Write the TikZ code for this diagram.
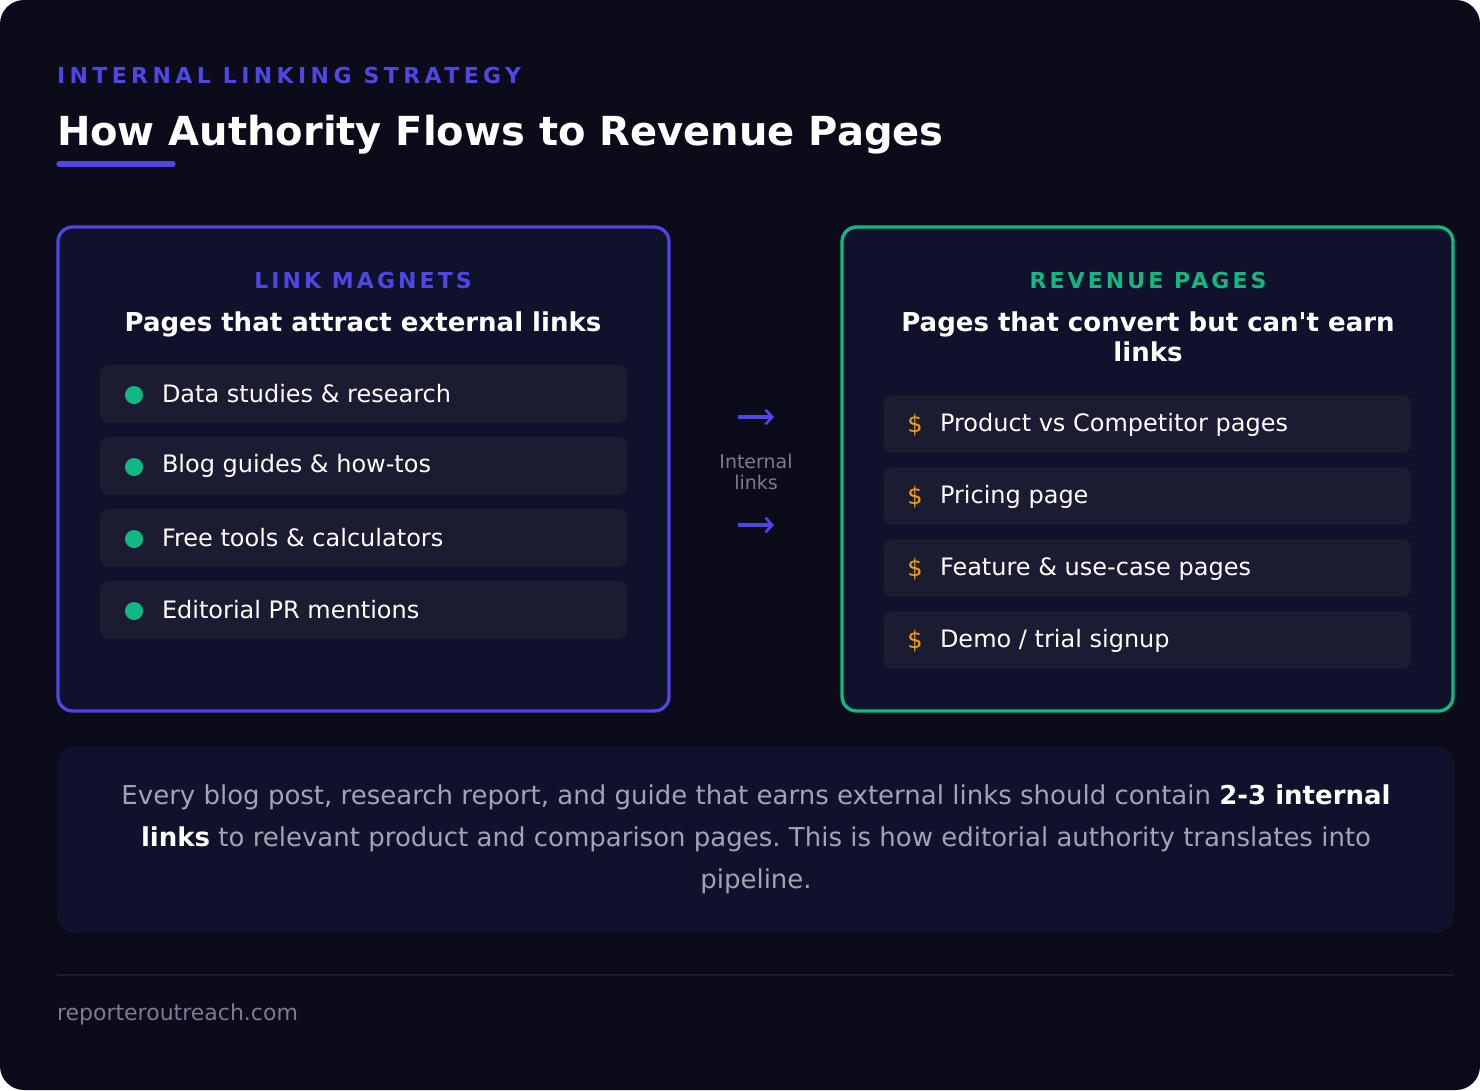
\documentclass[tikz,border=0pt]{standalone}
\usepackage{fontspec}
\setmainfont{DejaVu Sans}[Ligatures=TeXOff]
\newfontfamily\spaced[LetterSpace=20]{DejaVu Sans}
\newfontfamily\spacedb[LetterSpace=14]{DejaVu Sans}
\definecolor{bg}{HTML}{0B0B1A}
\definecolor{panel}{HTML}{10112A}
\definecolor{item}{HTML}{1B1B31}
\definecolor{indigo}{HTML}{4F46E5}
\definecolor{grn}{HTML}{10B981}
\definecolor{org}{HTML}{F59E0B}
\definecolor{gry}{HTML}{A3A3B8}
\definecolor{dgry}{HTML}{7C7C92}
\newcommand{\fsz}[1]{\fontsize{#1}{#1}\selectfont}
\frenchspacing
\tikzset{
 every node/.style={inner sep=0pt,outer sep=0pt},
 panelbox/.style={draw,line width=2.5pt,rounded corners=11pt,fill=panel},
 itembar/.style={fill=item,rounded corners=6pt},
 itemtxt/.style={anchor=west,text=white,font=\fsz{18}},
 bullet/.style={circle,fill=grn,minimum size=13.5pt},
 dollar/.style={anchor=center,text=org,font=\fsz{18}},
 arr/.style={-{Straight Barb[length=5pt,width=11pt,line width=2pt]},draw=indigo,line width=2.4pt},
}
\usetikzlibrary{arrows.meta}
\begin{document}
\begin{tikzpicture}[x=0.75pt,y=-0.75pt]
\useasboundingbox (0,0) rectangle (1480,1090);
\fill[bg,rounded corners=18pt] (0,0) rectangle (1480,1090);
\node[anchor=base west,text=indigo,font=\spaced\bfseries\fsz{16.5}] (kick) at (57,83) {INTERNAL LINKING STRATEGY};
\node[anchor=base west,text=white,font=\bfseries\fsz{30}] (title) at (57,145) {How Authority Flows to Revenue Pages};
\draw[indigo,line width=4pt,line cap=round] (59,164) -- (173,164);
% left panel
\draw[panelbox,draw=indigo] (58,227) rectangle (669,711);
\node[anchor=base,text=indigo,font=\spacedb\bfseries\fsz{16.5}] (lm) at (363,288) {LINK MAGNETS};
\node[anchor=base,text=white,font=\bfseries\fsz{19.5}] (lms) at (363,331) {Pages that attract external links};
\foreach \y/\t [count=\i] in {394/{Data studies \& research},466/{Blog guides \& how-tos},538/{Free tools \& calculators},610/{Editorial PR mentions}}{
 \fill[itembar] (100,\y-29) rectangle (627,\y+29);
 \node[bullet] (b\i) at (134,\y+1) {};
 \node[itemtxt] (l\i) at (162,\y) {\t};
}
% right panel
\draw[panelbox,draw=grn] (842,227) rectangle (1453,711);
\node[anchor=base,text=grn,font=\spacedb\bfseries\fsz{16.5}] (rp) at (1148,288) {REVENUE PAGES};
\node[anchor=base,text=white,font=\bfseries\fsz{19.5}] (rps) at (1148,331) {Pages that convert but can't earn};
\node[anchor=base,text=white,font=\bfseries\fsz{19.5}] (rps2) at (1148,361) {links};
\foreach \y/\t [count=\i] in {424/{Product vs Competitor pages},496/{Pricing page},568/{Feature \& use-case pages},640/{Demo / trial signup}}{
 \fill[itembar] (884,\y-29) rectangle (1411,\y+29);
 \node[dollar] (d\i) at (915,\y+1) {\$};
 \node[itemtxt] (r\i) at (940,\y+1) {\t};
}
% arrows
\coordinate (a1s) at (738,417); \coordinate (a1e) at (774,417);
\coordinate (a2s) at (738,525); \coordinate (a2e) at (774,525);
\draw[arr] (a1s) -- (a1e);
\draw[arr] (a2s) -- (a2e);
\node[text=dgry,font=\fsz{14.25},align=center] (il) at (756,472) {Internal\\[1pt]links};
% bottom box
\fill[panel,rounded corners=14pt] (57,746) rectangle (1454,933);
\node[anchor=base,text=gry,font=\fsz{19.5}] (p1) at (756,804) {Every blog post, research report, and guide that earns external links should contain \textcolor{white}{\bfseries 2-3 internal}};
\node[anchor=base,text=gry,font=\fsz{19.5}] (p2) at (756,846) {\textcolor{white}{\bfseries links} to relevant product and comparison pages. This is how editorial authority translates into};
\node[anchor=base,text=gry,font=\fsz{19.5}] (p3) at (756,888) {pipeline.};
\draw[color=item,line width=1pt] (57,975) -- (1454,975);
\node[anchor=base west,text=dgry,font=\fsz{16.5}] (foot) at (57,1020) {reporteroutreach.com};
\end{tikzpicture}
\end{document}
